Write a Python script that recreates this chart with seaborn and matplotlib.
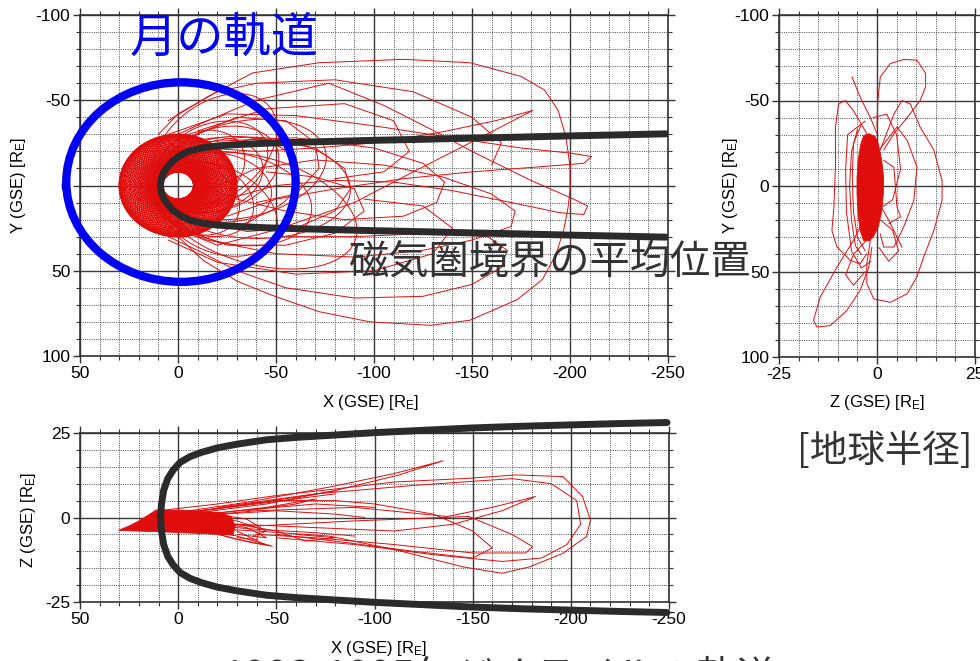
import numpy as np
import pandas as pd
import matplotlib
matplotlib.use("Agg")
import matplotlib.pyplot as plt
from matplotlib.patches import Ellipse, Circle
from matplotlib.ticker import MultipleLocator
import seaborn as sns

# ---- values (GSE coordinates, Earth radii) ----
# mean magnetopause: x along the tail, half width seen in Y (X-Y view) and in Z (X-Z view)
mp_x = [9, 8.5, 7.4, 5.3, 2.6, -1, -6, -12, -20, -30, -45, -60, -80, -100, -125, -150, -175, -200, -225, -249]
mp_half_y = [0, 4, 7.5, 11, 14.5, 17.5, 20.3, 22, 23.2, 24, 24.8, 25.3, 25.9, 26.5, 27.1, 27.8, 28.4, 29.1, 29.7, 30.3]
mp_half_z = [0, 4, 8, 11.5, 14, 16.3, 18, 19.3, 20.6, 21.7, 23, 23.7, 24.4, 25.1, 25.8, 26.5, 27, 27.4, 27.8, 28.1]

moon_center = (-1.5, -2.0)
moon_radius = 58.5

# near-Earth phase (1995): perigee / apogee and the apogee direction of each orbit [deg]
near_perigee = 8.0
near_apogee = 30.0
near_apogee_dir = [0, 5, 10, 15, 20, 25, 30, 35, 40, 45, 50, 55, 60, 65, 70, 75, 80, 85,
                   90, 95, 100, 105, 110, 115, 120, 125, 130, 135, 140, 145, 150, 155, 160, 165, 170, 175,
                   180, 185, 190, 195, 200, 205, 210, 215, 220, 225, 230, 235, 240, 245, 250, 255, 260, 265,
                   270, 275, 280, 285, 290, 295, 300, 305, 310, 315, 320, 325, 330, 335, 340, 345, 350, 355]

# intermediate orbits around the near tail (X-Y view)
mid_perigee = 10.0
mid_apogee = [36, 40, 42, 45, 48, 52, 55, 58, 62, 66, 70, 78, 88, 96]
mid_apogee_dir = [140, 222, 150, 200, 172, 215, 205, 145, 188, 228, 165, 196, 178, 160]

# distant tail loops, X-Y view (X, Y)
xy_loops = [
    [(5, -38), (-15, -52), (-38, -66), (-72, -72), (-115, -74), (-149, -72), (-175, -64), (-187, -56),
     (-194, -44), (-198, -28), (-200, -11), (-200, 3), (-199, 13), (-197, 25), (-193, 40), (-186, 55),
     (-173, 67), (-149, 79), (-129, 82), (-98, 80), (-72, 74), (-47, 64), (-30, 56), (-13, 44), (0, 30)],
    [(0, -30), (-15, -38), (-40, -50), (-77, -60), (-105, -47), (-129, -33), (-150, -20), (-180, -3),
     (-200, 7), (-209, 12), (-207, 17), (-195, 16), (-170, 10), (-140, 3), (-110, -2), (-80, -3),
     (-50, 0), (-25, 8), (-10, 15)],
    [(-5, 28), (-20, 35), (-50, 26), (-90, 10), (-120, -8), (-149, -25), (-181, -44), (-162, -38),
     (-133, -31), (-100, -25), (-70, -22), (-40, -20), (-15, -22)],
    [(5, -30), (-25, -42), (-60, -41), (-100, -35), (-140, -28), (-175, -22), (-200, -19), (-211, -17),
     (-207, -13), (-185, -11), (-150, -8), (-115, -4), (-80, 2), (-50, 8), (-25, 18)],
    [(-5, -25), (-20, -26), (-60, -28), (-100, -22), (-125, -13), (-136, -2), (-132, 10), (-115, 18),
     (-85, 20), (-55, 15), (-30, 8), (-12, 0)],
    [(0, 25), (-15, 32), (-50, 40), (-91, 42), (-125, 38), (-150, 32), (-170, 24), (-172, 15),
     (-160, 5), (-135, -5), (-105, -12), (-70, -15), (-40, -10), (-20, 0)],
    [(5, 30), (-10, 38), (-30, 50), (-55, 60), (-90, 66), (-125, 65), (-150, 58), (-165, 48),
     (-168, 38), (-158, 30), (-130, 28), (-90, 30), (-50, 30)],
    [(-10, -20), (-40, -28), (-70, -22), (-85, -10), (-88, 2), (-80, 15), (-60, 25), (-35, 27), (-15, 20)],
    [(-5, -28), (-30, -40), (-55, -38), (-70, -25), (-72, -10), (-60, 5), (-40, 10)],
    [(0, 25), (-25, 35), (-55, 35), (-80, 28), (-95, 15), (-90, 2), (-70, -5), (-45, -8)],
    [(10, -30), (0, -42), (-20, -55), (-40, -60), (-80, -62), (-120, -55), (-150, -40), (-165, -25), (-160, -12)],
    [(5, 32), (-20, 45), (-60, 52), (-100, 50), (-130, 40), (-140, 25), (-125, 12), (-95, 8)],
    [(-10, -32), (-45, -45), (-85, -48), (-110, -38), (-118, -20), (-105, -8), (-80, -4)],
]

# X-Z view: dense near-Earth wedge outline and tail loops (X, Z)
xz_core = [(30.4, -3.8), (25, -2.5), (20, -1), (15, 0.8), (11.3, 2.2), (5, 2.2), (-5, 2.1), (-15, 1.8),
           (-22, 1.3), (-27, 0.2), (-29, -2.5), (-28, -5.2), (-10, -4.7), (10, -4.2), (22, -4.0)]
xz_loops = [
    [(10, 2), (-20, 4), (-50, 6.5), (-81, 8.5), (-110, 10.5), (-148, 11.6), (-172, 12.6), (-196, 12.1),
     (-206, 6.2), (-210, -0.8), (-208, -5.6), (-196, -10.6), (-179, -14.6), (-165, -16.5), (-145, -14.6),
     (-111, -9.6), (-77, -5.5), (-40, -4), (-10, -3)],
    [(0, 1.5), (-35, 4.5), (-77, 9), (-110, 13), (-135, 16.8), (-112, 12.5), (-80, 8), (-45, 4), (-15, 1.8)],
    [(0, 0), (-40, 2), (-90, 3), (-137, 0.3), (-160, 3), (-182, 6.2), (-165, 2), (-140, -2), (-110, -4),
     (-70, -3), (-30, -2)],
    [(0, -1), (-40, -2.5), (-90, -1), (-148, 0.3), (-170, -5), (-180.5, -8.6), (-177, -10.5), (-150, -10.5),
     (-110, -8), (-70, -6), (-40, -5)],
    [(-20, 3), (-70, 7), (-120, 9.5), (-170, 11.5), (-190, 10), (-203, 5), (-205, -2), (-198, -8),
     (-185, -12), (-165, -13), (-130, -11), (-90, -8), (-50, -6)],
    [(-10, 2), (-50, 5), (-80, 5), (-100, 4), (-130, 1), (-150, -4), (-160, -9), (-150, -12), (-120, -10),
     (-80, -7), (-50, -5)],
    [(0, 1), (-30, 3.5), (-60, 6), (-81, 8)],
    [(-5, 0.5), (-40, 2.5), (-70, 4), (-100, 3)],
    [(-10, -3), (-30, -5.5), (-48, -8.5), (-38, -7.5), (-20, -5)],
    [(-15, -1), (-35, -3), (-45, -6), (-30, -5)],
    [(-10, 0), (-30, -1), (-45, -4), (-38, -5.5)],
    [(-20, 1), (-35, -0.5), (-42, -3), (-40, -6.5), (-30, -6)],
    [(-15, -4), (-30, -6.5), (-44, -8), (-30, -4)],
    [(-5, 1.5), (-40, 4), (-80, 7)],
    [(-10, 0.5), (-50, 2), (-80, 1), (-95, 0)],
    [(-10, -2), (-40, -3.5), (-70, -4.5), (-90, -5.5)],
    [(-20, -1), (-50, -4), (-65, -7), (-80, -6), (-60, -5)],
    [(-15, 1), (-45, 3), (-70, 5.5), (-60, 4), (-35, 2)],
]

# Z-Y view: dense near-Earth core outline and loops (Z, Y)
zy_core = [(-2.1, -30.6), (-0.5, -29), (0.3, -25), (1.2, -15), (1.7, -5), (1.6, 5), (1.2, 15), (0.3, 24),
           (-1, 30), (-2, 32), (-3.4, 32), (-4.3, 26), (-4.8, 17), (-5.1, 5), (-5.1, -5), (-4.8, -15),
           (-4.2, -24), (-3.4, -29.5)]
zy_loops = [
    [(0, -34.5), (0.2, -50), (0.85, -63.8), (3.4, -71.6), (6.8, -74), (10.2, -73.6), (12.4, -65.8),
     (12.4, -58), (11, -50), (7.7, -40), (4.3, -30.6), (1.7, -21)],
    [(0.85, -21), (4.3, -42), (6.4, -50), (8.5, -48), (11, -34.5), (14.5, -21), (16.6, -3.3), (16.6, 8.4),
     (14.5, 26), (11.9, 41.6), (10.2, 53), (7.7, 63), (3.4, 68), (-0.85, 66), (-2.6, 57), (-2.6, 45.5),
     (-1.7, 31.8)],
    [(-2.6, 16.2), (-6, 31.8), (-10.2, 47.4), (-14.5, 65), (-16.2, 78.6), (-15.3, 82.5), (-11.9, 81.6),
     (-7.7, 72.8), (-4.3, 61), (-2.1, 47.4), (-1.3, 35.7)],
    [(-6.4, -63.8), (-4.3, -52), (-1.7, -40), (0, -30.6)],
    [(-2.6, -30.6), (-6, -44), (-8.1, -50), (-9.8, -48), (-10.6, -34.5), (-10.6, -11), (-11, 12.3),
     (-11.5, 26), (-10.2, 35.7), (-6.8, 43.5), (-4.3, 45.5), (-2.6, 39.6)],
    [(0.85, -22), (5.1, -34.5), (7.7, -26.7), (10.2, -11), (9.4, 8.4), (6.8, 24), (4.3, 35.7), (1.7, 35.7),
     (0.85, 28)],
    [(1.7, -15), (4.3, -11), (5.1, 12.3), (6, 18), (3, 22)],
    [(0, 8), (3, 20), (6.4, 36)],
    [(-5, -33), (-6.5, -20), (-7, 0), (-6.5, 20), (-5.5, 35), (-4, 40)],
    [(-4, -36), (-6, -25), (-6.3, -5), (-6, 15), (-5, 30), (-3, 38)],
    [(-3, -38), (-7.5, -30), (-8, -10), (-7.8, 15), (-6.5, 38), (-4, 48), (-1.5, 44)],
    [(-1, -40), (2.5, -42), (5, -30), (6, -10), (4, 8), (1.5, 12)],
    [(-2, 30), (-6, 40), (-8, 52), (-6, 58), (-3, 50)],
    [(1, 20), (4, 26), (5.5, 38), (3, 44), (0.5, 36)],
]

RED = "#e00d0d"
DARK = "#2b2b2b"
BLUE = "#0000f5"
CJK = ["Noto Sans CJK JP", "DejaVu Sans"]

sns.set_style("white")
plt.rcParams["font.family"] = ["Liberation Sans", "DejaVu Sans"]
plt.rcParams["axes.unicode_minus"] = False
plt.rcParams["mathtext.default"] = "regular"

W, H = 980, 661
fig = plt.figure(figsize=(W / 100, H / 100), dpi=100)


def fx(px):
    return px / W


def fy(py):
    return 1 - py / H


def add_axes(x0, y0, x1, y1):
    return fig.add_axes([fx(x0), fy(y1), fx(x1) - fx(x0), fy(y0) - fy(y1)])


def loops_frame(loops):
    rows = []
    for i, loop in enumerate(loops):
        for a, b in loop:
            rows.append((i, a, b))
    return pd.DataFrame(rows, columns=["loop", "h", "v"])


def mp_frame(half):
    xs = mp_x[::-1] + mp_x[1:]
    vs = [-h for h in half[::-1]] + half[1:]
    return pd.DataFrame({"h": xs, "v": vs})


def orbit(ax, perigee, apogee, direction, lw):
    # Keplerian ellipse with the Earth at one focus
    a = (perigee + apogee) / 2
    c = (apogee - perigee) / 2
    b = np.sqrt(perigee * apogee)
    t = np.radians(direction)
    ax.add_patch(Ellipse((c * np.cos(t), c * np.sin(t)), 2 * a, 2 * b, angle=direction,
                         fill=False, ec=RED, lw=lw, zorder=2))


def style(ax, xmaj, xmin, ymaj, ymin):
    ax.xaxis.set_major_locator(MultipleLocator(xmaj))
    ax.xaxis.set_minor_locator(MultipleLocator(xmin))
    ax.yaxis.set_major_locator(MultipleLocator(ymaj))
    ax.yaxis.set_minor_locator(MultipleLocator(ymin))
    ax.grid(which="major", color="#3a3a3a", lw=1.0, ls="-")
    ax.grid(which="minor", color="#4d4d4d", lw=0.7, ls=(0, (1, 1.3)))
    ax.set_axisbelow(True)
    ax.tick_params(which="both", direction="out", bottom=True, left=True, top=True, right=True,
                   labeltop=False, labelright=False, color="#333333")
    ax.tick_params(which="major", length=5, width=1, labelsize=12.5, pad=2, labelcolor="black")
    ax.tick_params(which="minor", length=3, width=0.8)
    for s in ax.spines.values():
        s.set_color("#333333")
        s.set_linewidth(1.2)
    ax.set(xlabel="", ylabel="")


# ---------- X-Y ----------
ax_xy = add_axes(80, 15, 668, 356)
for d in near_apogee_dir:
    orbit(ax_xy, near_perigee, near_apogee, d, 1.0)
for ra, d in zip(mid_apogee, mid_apogee_dir):
    orbit(ax_xy, mid_perigee, ra, d, 0.7)
sns.lineplot(data=loops_frame(xy_loops), x="h", y="v", units="loop", estimator=None, sort=False,
             color=RED, lw=0.7, ax=ax_xy, legend=False, zorder=2)
sns.lineplot(data=mp_frame(mp_half_y), x="h", y="v", sort=False, estimator=None,
             color=DARK, lw=5, ax=ax_xy, legend=False, zorder=3)
ax_xy.add_patch(Circle(moon_center, moon_radius, fill=False, ec=BLUE, lw=6, zorder=4, clip_on=False))
ax_xy.set_xlim(50, -250)
ax_xy.set_ylim(100, -100)
style(ax_xy, 50, 10, 50, 10)

# ---------- Z-Y ----------
ax_zy = add_axes(779, 15, 975, 357)
core = np.array(zy_core)
ax_zy.fill(core[:, 0], core[:, 1], color=RED, lw=0.6, zorder=2)
sns.lineplot(data=loops_frame(zy_loops), x="h", y="v", units="loop", estimator=None, sort=False,
             color=RED, lw=0.7, ax=ax_zy, legend=False, zorder=2)
ax_zy.set_xlim(-25, 25)
ax_zy.set_ylim(100, -100)
style(ax_zy, 25, 5, 50, 10)

# ---------- X-Z ----------
ax_xz = add_axes(80, 433, 669, 602)
core = np.array(xz_core)
ax_xz.fill(core[:, 0], core[:, 1], color=RED, lw=0.6, zorder=2)
sns.lineplot(data=loops_frame(xz_loops), x="h", y="v", units="loop", estimator=None, sort=False,
             color=RED, lw=0.7, ax=ax_xz, legend=False, zorder=2)
sns.lineplot(data=mp_frame(mp_half_z), x="h", y="v", sort=False, estimator=None,
             color=DARK, lw=5, ax=ax_xz, legend=False, zorder=3, clip_on=False)
ax_xz.set_xlim(50, -250)
ax_xz.set_ylim(-25, 25)
style(ax_xz, 50, 10, 25, 5)

# ---------- axis labels ----------
lab = dict(fontsize=12, ha="center", va="center", color="black")
fig.text(fx(370), fy(403), r"X (GSE) [R$_E$]", **lab)
fig.text(fx(18), fy(186), r"Y (GSE) [R$_E$]", rotation=90, **lab)
fig.text(fx(877), fy(403), r"Z (GSE) [R$_E$]", **lab)
fig.text(fx(730), fy(186), r"Y (GSE) [R$_E$]", rotation=90, **lab)
fig.text(fx(28), fy(520), r"Z (GSE) [R$_E$]", rotation=90, **lab)
fig.text(fx(378), fy(649), r"X (GSE) [R$_E$]", **lab)

# ---------- annotations ----------
fig.text(fx(224), fy(40), "月の軌道", family=CJK, fontsize=34, color=BLUE,
         ha="center", va="center", zorder=10)
fig.text(fx(550), fy(262), "磁気圏境界の平均位置", family=CJK, fontsize=29, color="#333333",
         ha="center", va="center", zorder=10)
fig.text(fx(885), fy(451), "[地球半径]", family=CJK, fontsize=27, color="#333333",
         ha="center", va="center", zorder=10)
fig.text(fx(222), fy(690), "1993-1995年ジオテイルの軌道", family=CJK, fontsize=29, color="#333333",
         ha="left", va="baseline", zorder=10)

fig.savefig("out.png", dpi=100)
